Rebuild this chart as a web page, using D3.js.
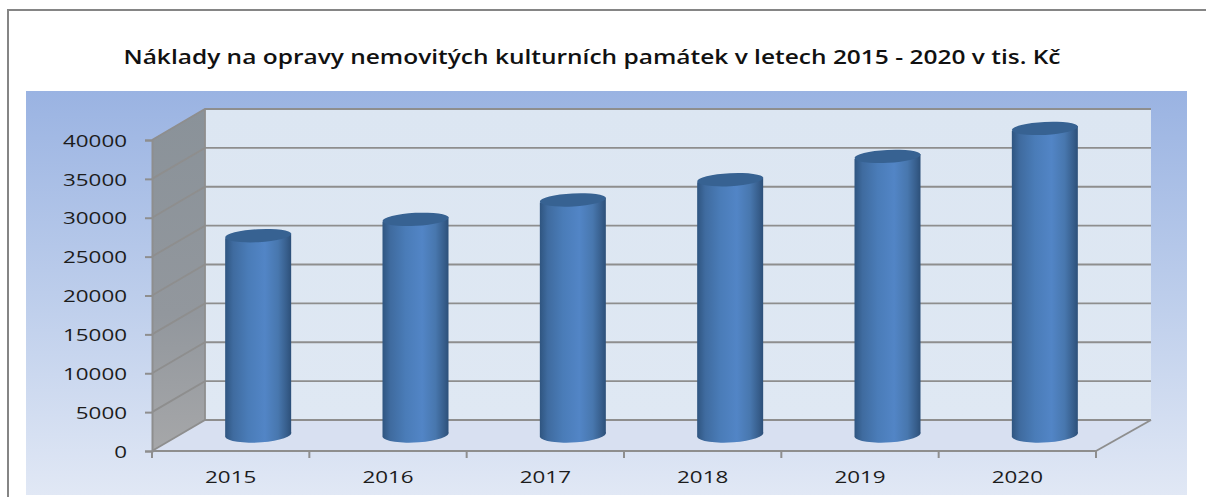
<!DOCTYPE html>
<html><head><meta charset="utf-8">
<script src="https://cdnjs.cloudflare.com/ajax/libs/d3/7.8.5/d3.min.js"></script>
<style>html,body{margin:0;background:#fff}svg{display:block}</style></head>
<body><script>
const titleText = "Náklady na opravy nemovitých kulturních památek v letech 2015 - 2020 v tis. Kč";
const categories = ["2015","2016","2017","2018","2019","2020"];
const values = [25700,27800,30300,32900,35900,39500];
const yTicks = [0,5000,10000,15000,20000,25000,30000,35000,40000];

const W=1206,H=497;
const svg=d3.select("body").append("svg").attr("width",W).attr("height",H);
const defs=svg.append("defs");
function grad(id,stops,x2,y2){const g=defs.append("linearGradient").attr("id",id).attr("x1",0).attr("y1",0).attr("x2",x2).attr("y2",y2);
 stops.forEach(s=>g.append("stop").attr("offset",s[0]).attr("stop-color",s[1]));}
grad("panel",[[0,"#9ab3e2"],[0.5,"#bccdeb"],[1,"#e1e8f5"]],0,1);
grad("side",[[0,"#8a9299"],[0.6,"#92979d"],[1,"#a6a7a9"]],0,1);
grad("back",[[0,"#dce6f2"],[1,"#dfe8f3"]],0,1);
grad("cyl",[[0,"#2f5580"],[0.12,"#3f6b9f"],[0.35,"#4a7cb8"],[0.6,"#5285c6"],[0.8,"#4877ae"],[0.93,"#375e8c"],[1,"#2c4f78"]],1,0);

const x0=152,x1=1096,y0=451,y1=140,dx=53,dy=-31;
const x=d3.scaleBand().domain(categories).range([x0,x1]).padding(0);
const y=d3.scaleLinear().domain([0,40000]).range([y0,y1]);
const grid="#8e8e8e";

// frame
svg.append("path").attr("d",`M8,497V10H1206`).attr("fill","none").attr("stroke","#858585").attr("stroke-width",2);
// panel
svg.append("rect").attr("x",26).attr("y",91).attr("width",1161).attr("height",404).attr("fill","url(#panel)");
// title
svg.append("text").attr("x",592).attr("y",63.5).attr("text-anchor","middle")
 .attr("font-family","'Open Sans'").attr("font-weight",600).attr("font-size",20)
 .attr("textLength",937).attr("lengthAdjust","spacingAndGlyphs").attr("fill","#111").text(titleText);

const poly=(pts,fill)=>svg.append("polygon").attr("points",pts.map(p=>p.join(",")).join(" ")).attr("fill",fill);
// walls
poly([[x0+dx,y1+dy],[x1+dx+2,y1+dy],[x1+dx+2,y0+dy],[x0+dx,y0+dy]],"url(#back)");
poly([[x0,y0],[x0+dx,y0+dy],[x1+dx,y0+dy],[x1,y0]],"#d8e0f1");
poly([[x0,y1],[x0+dx,y1+dy],[x0+dx,y0+dy],[x0,y0]],"url(#side)");

// gridlines
const gl=svg.append("g").attr("fill","none").attr("stroke",grid).attr("stroke-width",1.8);
yTicks.forEach(t=>{
 gl.append("path").attr("d",`M${x0},${y(t)}L${x0+dx},${y(t)+dy}H${x1+dx+2}`);
});
gl.append("path").attr("d",`M${x0+dx},${y0+dy}V${y1+dy}`);
svg.append("line").attr("x1",x1).attr("y1",y0).attr("x2",x1+dx+2).attr("y2",y0+dy).attr("stroke",grid).attr("stroke-width",2);

// bars
const bw=66,ry=6.5,tilt=-3;
const mid=d=>x(d)+x.bandwidth()/2+dx/2+1;
const g=svg.append("g");
categories.forEach((c,i)=>{
 const cx=mid(c), yb=y(0)+dy/2+1.5, yt=y(values[i])+dy/2;
 const lift=2.5;
 const a=bw/2;
 g.append("path").attr("d",
  `M${cx-a},${yt+lift}L${cx-a},${yb}A${a},${ry+1.5} ${tilt} 0 0 ${cx+a},${yb-lift*2}L${cx+a},${yt-lift}Z`)
  .attr("fill","url(#cyl)");
 g.append("ellipse").attr("cx",cx).attr("cy",yt).attr("rx",a).attr("ry",ry)
  .attr("transform",`rotate(${tilt} ${cx} ${yt})`).attr("fill","#376292");
});

// axes (front edges)
const stretch=sel=>sel.attr("font-family","'Open Sans'").attr("font-size",17).attr("fill","#1c1c1c")
  .attr("textLength",function(){return this.textContent.length*12.8;}).attr("lengthAdjust","spacingAndGlyphs");
const axY=svg.append("g").attr("transform",`translate(${x0},0)`)
 .call(d3.axisLeft(y).tickValues(yTicks).tickSize(7).tickPadding(18).tickFormat(d3.format("d")));
axY.select(".domain").attr("stroke",grid).attr("stroke-width",2);
axY.selectAll("line").attr("stroke",grid).attr("stroke-width",2);
stretch(axY.selectAll("text")).attr("dy","0.36em");

svg.append("line").attr("x1",x0).attr("x2",x1).attr("y1",y0).attr("y2",y0).attr("stroke",grid).attr("stroke-width",2);
const edges=d3.range(categories.length+1).map(i=>x0+i*x.bandwidth());
svg.append("g").selectAll("line").data(edges).join("line").attr("x1",d=>d).attr("x2",d=>d).attr("y1",y0).attr("y2",y0+7).attr("stroke",grid).attr("stroke-width",2);

const axX=svg.append("g").attr("transform",`translate(0,${y0})`)
 .call(d3.axisBottom(x).tickSize(0).tickPadding(20));
axX.select(".domain").remove();
stretch(axX.selectAll("text"));
</script></body></html>
